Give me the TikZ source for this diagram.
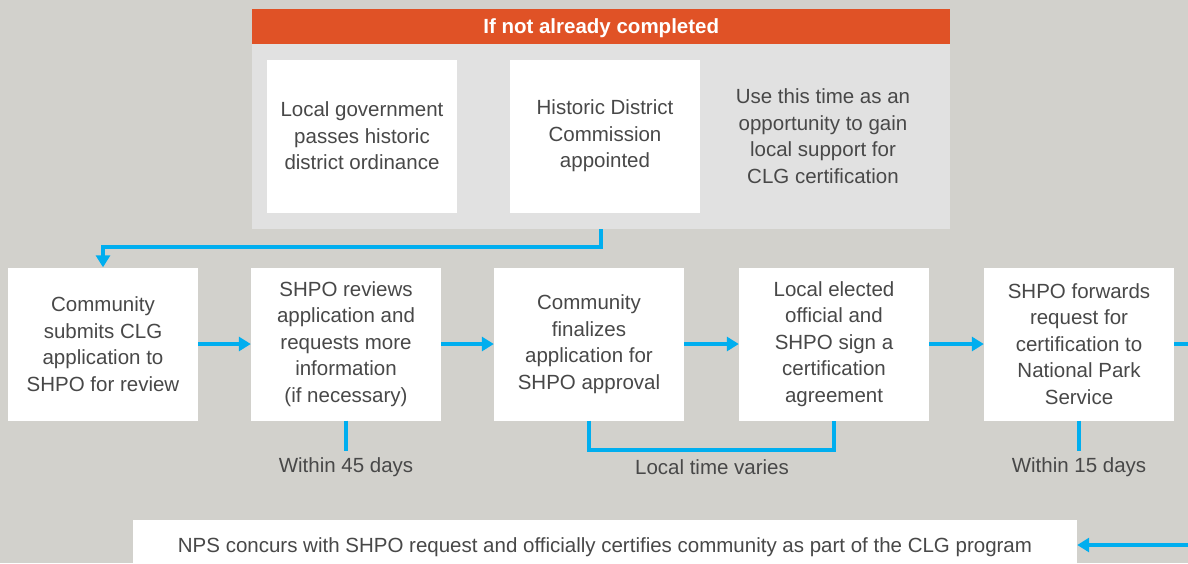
\documentclass[tikz,border=0pt]{standalone}
\usepackage{fontspec}
\setmainfont{Liberation Sans}
\usetikzlibrary{arrows.meta}
\definecolor{bgc}{RGB}{210,209,204}
\definecolor{panelc}{RGB}{225,225,225}
\definecolor{hdrc}{RGB}{224,82,38}
\definecolor{flowc}{RGB}{0,174,239}
\definecolor{txtc}{RGB}{72,72,72}
\begin{document}
\begin{tikzpicture}[x=1pt,y=-1pt,
  box/.style={fill=white, minimum width=190pt, minimum height=153pt, inner sep=0pt, align=center, text=txtc, font=\fontsize{20.5}{26.5}\selectfont},
  plain/.style={inner sep=0pt, align=center, text=txtc, font=\fontsize{20.5}{26.5}\selectfont},
  lab/.style={inner sep=0pt, text=txtc, font=\fontsize{20.5}{24}\selectfont},
  flow/.style={draw=flowc, line width=4pt, -{Triangle[length=12pt,width=14pt]}},
  brk/.style={draw=flowc, line width=4pt}]
\useasboundingbox (0,0) rectangle (1188,563);
\clip (0,0) rectangle (1188,563);
\fill[bgc] (0,0) rectangle (1188,563);
% top panel
\node[fill=panelc, minimum width=698pt, minimum height=186pt, inner sep=0pt, anchor=north west] (panel) at (252,43) {};
\node[fill=hdrc, minimum width=698pt, minimum height=34.5pt, inner sep=0pt, text depth=0pt, anchor=north west, text=white, font=\fontsize{20.5}{24}\selectfont\bfseries] (hdr) at (252,9) {If not already completed};
\node[box] (g1) at (362,136) {Local government\\passes historic\\district ordinance};
\node[box] (g2) at (605,136) {Historic District\\Commission\\appointed};
\node[plain] (g3) at (823,136) {Use this time as an\\opportunity to gain\\local support for\\CLG certification};
% main row
\node[box] (a) at (103,344) {Community\\submits CLG\\application to\\SHPO for review};
\node[box] (b) at (346,344) {SHPO reviews\\application and\\requests more\\information\\(if necessary)};
\node[box] (c) at (589,344) {Community\\finalizes\\application for\\SHPO approval};
\node[box] (d) at (834,344) {Local elected\\official and\\SHPO sign a\\certification\\agreement};
\node[box] (e) at (1079,344) {SHPO forwards\\request for\\certification to\\National Park\\Service};
% bottom box
\node[fill=white, minimum width=944pt, minimum height=50pt, inner sep=0pt, text depth=0pt, text=txtc, font=\fontsize{20.5}{24}\selectfont] (nps) at (605,545) {NPS concurs with SHPO request and officially certifies community as part of the CLG program};
% labels
\node[lab] (l1) at (346,467) {Within 45 days};
\node[lab] (l2) at (712,467) {Local time varies};
\node[lab] (l3) at (1079,467) {Within 15 days};
% connectors
\draw[flow] (panel.south) -- ++(0,18) -| (a.north);
\draw[flow] (a.east) -- (b.west);
\draw[flow] (b.east) -- (c.west);
\draw[flow] (c.east) -- (d.west);
\draw[flow] (d.east) -- (e.west);
\coordinate (r) at (1200,344);
\draw[flow] (e.east) -- (r) |- (nps.east);
\draw[brk] (b.south) -- ++(0,30);
\draw[brk] (c.south) -- ++(0,29) -| (d.south);
\draw[brk] (e.south) -- ++(0,30);
\end{tikzpicture}
\end{document}
